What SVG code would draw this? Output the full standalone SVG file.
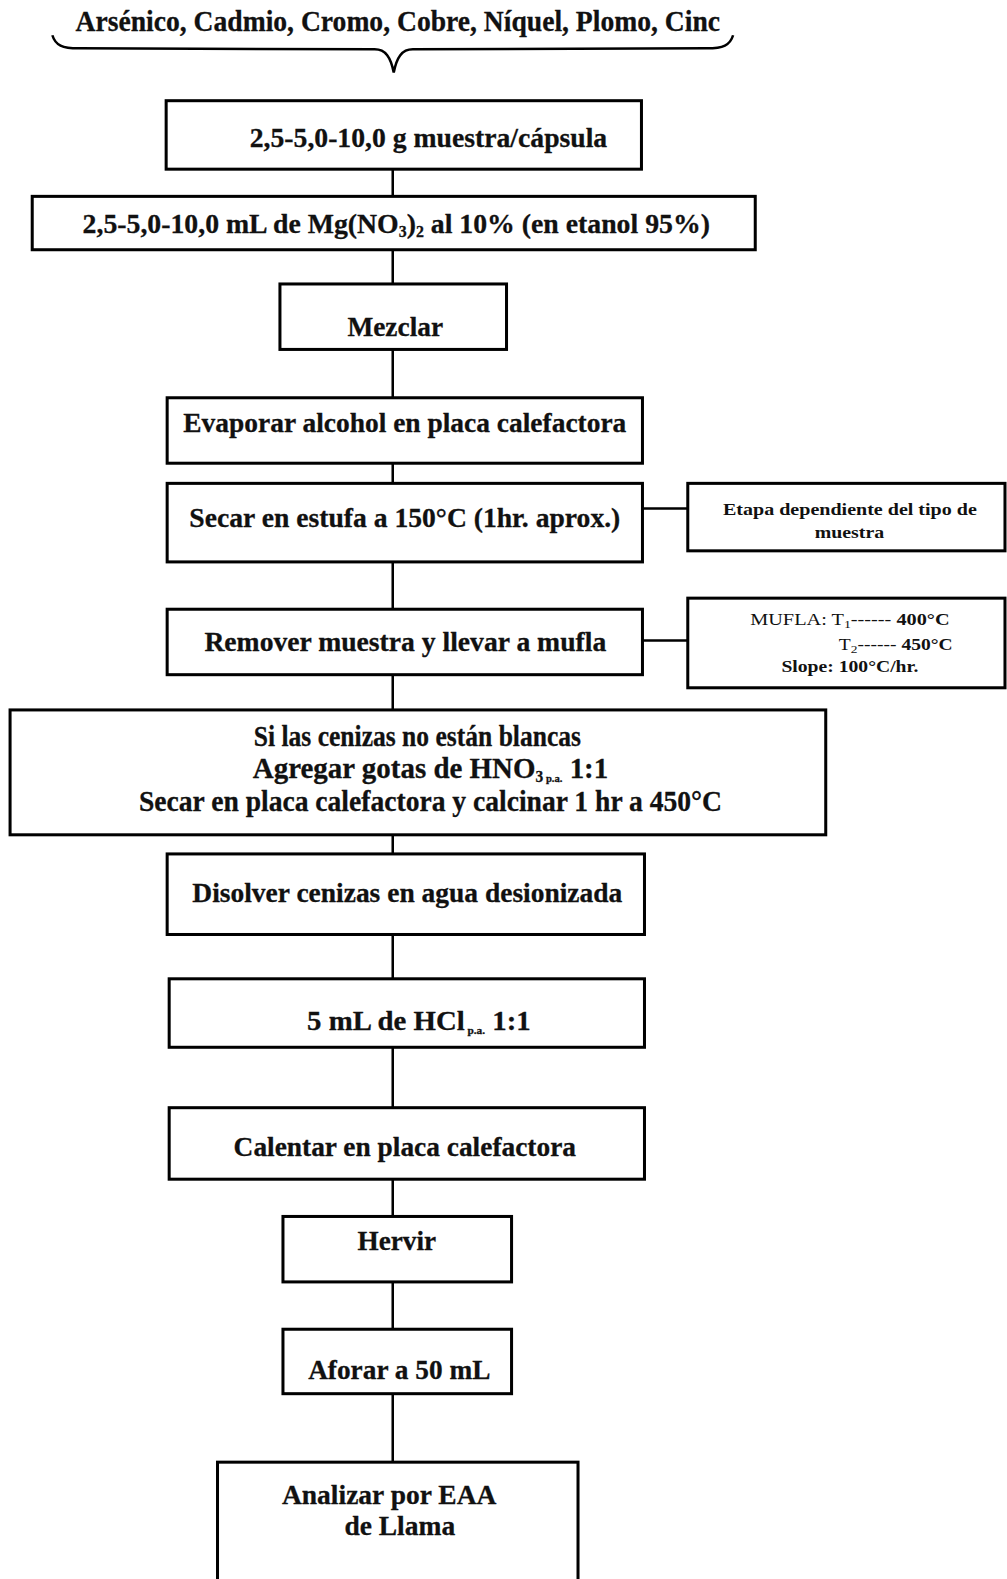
<svg xmlns="http://www.w3.org/2000/svg" width="1007" height="1579" viewBox="0 0 1007 1579">
<style>
.bx{fill:#fff;stroke:#000;stroke-width:3}
.cn{stroke:#000;stroke-width:2.5;fill:none}
.t{font-family:"Liberation Serif","Times New Roman",serif;font-weight:bold;font-size:28px;fill:#111;stroke:#111;stroke-width:0.3}
.big{font-size:30px}
.s{font-family:"Liberation Serif","Times New Roman",serif;font-weight:bold;font-size:16px;fill:#111}
.sub{font-size:16px}
.sub2{font-size:11px}
</style>
<rect width="1007" height="1579" fill="#fff"/>
<g transform="scale(1.007)">
<g id="title">
<text class="t big" x="75" y="31" textLength="640" lengthAdjust="spacingAndGlyphs">Arsénico, Cadmio, Cromo, Cobre, Níquel, Plomo, Cinc</text>
<path class="cn" d="M52,35 C55,45 62,48 78,48 L372,49 C383,49 388,57 391,72 C394,57 399,49 410,49 L702,48 C718,48 725,45 728,35"/>
</g>
<g id="connectors">
<line class="cn" x1="390" y1="168" x2="390" y2="195"/>
<line class="cn" x1="390" y1="248" x2="390" y2="282"/>
<line class="cn" x1="390" y1="347" x2="390" y2="395"/>
<line class="cn" x1="390" y1="460" x2="390" y2="480"/>
<line class="cn" x1="390" y1="558" x2="390" y2="605"/>
<line class="cn" x1="390" y1="670" x2="390" y2="705"/>
<line class="cn" x1="390" y1="829" x2="390" y2="848"/>
<line class="cn" x1="390" y1="928" x2="390" y2="972"/>
<line class="cn" x1="390" y1="1040" x2="390" y2="1100"/>
<line class="cn" x1="390" y1="1171" x2="390" y2="1208"/>
<line class="cn" x1="390" y1="1273" x2="390" y2="1320"/>
<line class="cn" x1="390" y1="1384" x2="390" y2="1452"/>
<line class="cn" x1="638" y1="505" x2="683" y2="505"/>
<line class="cn" x1="638" y1="636" x2="683" y2="636"/>
</g>
<g id="n1">
<rect class="bx" x="165" y="100" width="472" height="68"/>
<text class="t" x="248" y="146" textLength="355" lengthAdjust="spacingAndGlyphs">2,5-5,0-10,0 g muestra/cápsula</text>
</g>
<g id="n2">
<rect class="bx" x="32" y="195" width="718" height="53"/>
<text class="t" x="82" y="231" textLength="623" lengthAdjust="spacingAndGlyphs">2,5-5,0-10,0 mL de Mg(NO<tspan class="sub" dy="4">3</tspan><tspan dy="-4">)</tspan><tspan class="sub" dy="4">2</tspan><tspan dy="-4"> al 10% (en etanol 95%)</tspan></text>
</g>
<g id="n3">
<rect class="bx" x="278" y="282" width="225" height="65"/>
<text class="t" x="345" y="334" textLength="95" lengthAdjust="spacingAndGlyphs">Mezclar</text>
</g>
<g id="n4">
<rect class="bx" x="166" y="395" width="472" height="65"/>
<text class="t" x="182" y="429" textLength="440" lengthAdjust="spacingAndGlyphs">Evaporar alcohol en placa calefactora</text>
</g>
<g id="n5">
<rect class="bx" x="166" y="480" width="472" height="78"/>
<text class="t" x="188" y="523" textLength="428" lengthAdjust="spacingAndGlyphs">Secar en estufa a 150°C (1hr. aprox.)</text>
</g>
<g id="n5b">
<rect class="bx" x="683" y="480" width="315" height="67"/>
<text class="s" x="718" y="511" textLength="252" lengthAdjust="spacingAndGlyphs">Etapa dependiente del tipo de</text>
<text class="s" x="809" y="534" textLength="69" lengthAdjust="spacingAndGlyphs">muestra</text>
</g>
<g id="n6">
<rect class="bx" x="166" y="605" width="472" height="65"/>
<text class="t" x="203" y="646" textLength="399" lengthAdjust="spacingAndGlyphs">Remover muestra y llevar a mufla</text>
</g>
<g id="n6b">
<rect class="bx" x="683" y="594" width="315" height="89"/>
<text class="s" x="745" y="621" textLength="198" lengthAdjust="spacingAndGlyphs" style="font-weight:normal">MUFLA: T<tspan class="sub2" dy="3">1</tspan><tspan dy="-3">------ </tspan><tspan style="font-weight:bold">400°C</tspan></text>
<text class="s" x="833" y="645" textLength="113" lengthAdjust="spacingAndGlyphs" style="font-weight:normal">T<tspan class="sub2" dy="3">2</tspan><tspan dy="-3">------ </tspan><tspan style="font-weight:bold">450°C</tspan></text>
<text class="s" x="776" y="667" textLength="136" lengthAdjust="spacingAndGlyphs">Slope: 100°C/hr.</text>
</g>
<g id="n7">
<rect class="bx" x="10" y="705" width="810" height="124"/>
<text class="t big" x="252" y="741" textLength="325" lengthAdjust="spacingAndGlyphs">Si las cenizas no están blancas</text>
<text class="t big" x="251" y="773" textLength="353" lengthAdjust="spacingAndGlyphs">Agregar gotas de HNO<tspan class="sub" dy="4">3</tspan><tspan class="sub2"> p.a.</tspan><tspan dy="-4"> 1:1</tspan></text>
<text class="t big" x="138" y="805" textLength="579" lengthAdjust="spacingAndGlyphs">Secar en placa calefactora y calcinar 1 hr a 450°C</text>
</g>
<g id="n8">
<rect class="bx" x="166" y="848" width="474" height="80"/>
<text class="t" x="191" y="896" textLength="427" lengthAdjust="spacingAndGlyphs">Disolver cenizas en agua desionizada</text>
</g>
<g id="n9">
<rect class="bx" x="168" y="972" width="472" height="68"/>
<text class="t" x="305" y="1023" textLength="222" lengthAdjust="spacingAndGlyphs">5 mL de HCl<tspan class="sub2" dy="4"> p.a.</tspan><tspan dy="-4"> 1:1</tspan></text>
</g>
<g id="n10">
<rect class="bx" x="168" y="1100" width="472" height="71"/>
<text class="t" x="232" y="1148" textLength="340" lengthAdjust="spacingAndGlyphs">Calentar en placa calefactora</text>
</g>
<g id="n11">
<rect class="bx" x="281" y="1208" width="227" height="65"/>
<text class="t" x="355" y="1241" textLength="78" lengthAdjust="spacingAndGlyphs">Hervir</text>
</g>
<g id="n12">
<rect class="bx" x="281" y="1320" width="227" height="64"/>
<text class="t" x="306" y="1369" textLength="181" lengthAdjust="spacingAndGlyphs">Aforar a 50 mL</text>
</g>
<g id="n13">
<rect class="bx" x="216" y="1452" width="358" height="120"/>
<text class="t" x="280" y="1494" textLength="213" lengthAdjust="spacingAndGlyphs">Analizar por EAA</text>
<text class="t" x="342" y="1524" textLength="110" lengthAdjust="spacingAndGlyphs">de Llama</text>
</g>
</g>
</svg>
